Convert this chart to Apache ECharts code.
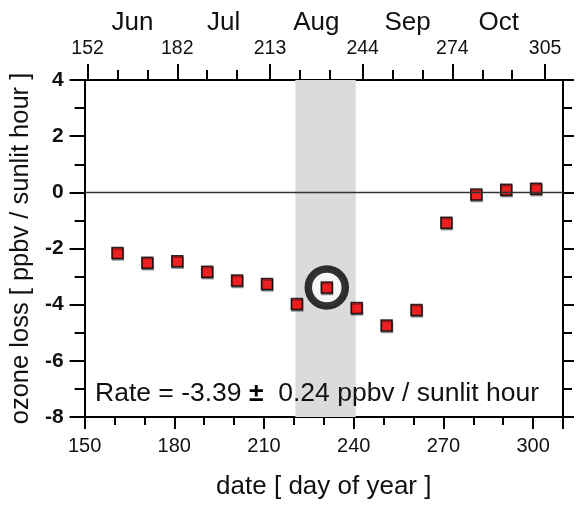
<!DOCTYPE html>
<html>
<head>
<meta charset="utf-8">
<script src="https://cdn.jsdelivr.net/npm/echarts@6/dist/echarts.min.js"></script>
<style>
  html, body { margin: 0; padding: 0; background: #fff; }
  #chart { width: 577px; height: 505px; }
</style>
</head>
<body>
<div id="chart"></div>
<script>
// Ozone loss rate, 10-day bins (day of year)
const days = [161, 171, 181, 191, 201, 211, 221, 231, 241, 251, 261, 271, 281, 291, 301];
const lossRate = [-2.16, -2.51, -2.45, -2.83, -3.14, -3.26, -3.98, -3.39, -4.12, -4.74, -4.19, -1.08, -0.08, 0.09, 0.13];

// Highlighted bin and the fitted rate
const highlightDay = 231;
const rateValue = -3.39;
const rateError = 0.24;

// Shaded period (day of year)
const shadeStart = 220.5;
const shadeEnd = 240.7;

// Top axis: first day of each month and ticks in between
const monthStartTicks = [152, 182, 213, 244, 274, 305];
const monthMinorTicks = [162, 172, 192, 202, 223, 233, 254, 264, 284, 294];
const monthNames = ['Jun', 'Jul', 'Aug', 'Sep', 'Oct'];
const monthCenters = [167, 197.5, 228.5, 259, 289.5];

const font = 'Liberation Sans, Arial, Helvetica, sans-serif';
const ink = '#111';
const lineStyle = { color: '#000', width: 2 };

const chart = echarts.init(document.getElementById('chart'), null, { renderer: 'canvas' });

const xMin = 150, xMax = 310;
const topShift = 1; // top axis values sit one day ahead of the bottom scale

const topAxisBase = {
  type: 'value', position: 'top', gridIndex: 0,
  min: xMin + topShift, max: xMax + topShift,
  splitLine: { show: false },
  axisLine: { show: false, onZero: false }
};

const option = {
  backgroundColor: '#fff',
  animation: false,
  grid: { left: 84, right: 14, top: 80, bottom: 84, containLabel: false },
  xAxis: [
    {
      type: 'value', position: 'bottom',
      min: xMin, max: xMax, interval: 30,
      name: 'date [ day of year ]', nameLocation: 'middle', nameGap: 57,
      nameTextStyle: { fontFamily: font, fontSize: 26, color: ink },
      axisLine: { show: true, onZero: false, lineStyle },
      axisTick: { show: true, length: 12, lineStyle },
      minorTick: { show: true, splitNumber: 3, length: 8, lineStyle },
      axisLabel: { fontFamily: font, fontSize: 20, color: ink, margin: 19,
        showMinLabel: true, showMaxLabel: false },
      splitLine: { show: false }
    },
    Object.assign({}, topAxisBase, {
      axisLine: { show: true, onZero: false, lineStyle },
      axisTick: { show: true, length: 16, lineStyle, customValues: monthStartTicks },
      axisLabel: { fontFamily: font, fontSize: 19.5, color: ink, margin: 21,
        customValues: monthStartTicks, formatter: v => String(Math.round(v)) }
    }),
    Object.assign({}, topAxisBase, {
      axisTick: { show: true, length: 10, lineStyle, customValues: monthMinorTicks },
      axisLabel: { show: false }
    }),
    Object.assign({}, topAxisBase, {
      axisTick: { show: false },
      axisLabel: { fontFamily: font, fontSize: 26, color: ink, margin: 44,
        customValues: monthCenters,
        formatter: v => monthNames[monthCenters.indexOf(v)] || '' }
    })
  ],
  yAxis: [
    {
      type: 'value', position: 'left',
      min: -8, max: 4, interval: 2,
      name: 'ozone loss [ ppbv / sunlit hour ]', nameLocation: 'middle', nameGap: 49,
      nameTextStyle: { fontFamily: font, fontSize: 25.5, color: ink },
      axisLine: { show: true, onZero: false, lineStyle },
      axisTick: { show: true, length: 15, lineStyle },
      minorTick: { show: true, splitNumber: 2, length: 10, lineStyle },
      axisLabel: { fontFamily: font, fontSize: 21, fontWeight: 'bold', color: ink, margin: 21 },
      splitLine: { show: false }
    },
    {
      type: 'value', position: 'right',
      min: -8, max: 4, interval: 2,
      axisLine: { show: true, onZero: false, lineStyle },
      axisTick: { show: true, length: 11, lineStyle },
      minorTick: { show: true, splitNumber: 2, length: 9, lineStyle },
      axisLabel: { show: false },
      splitLine: { show: false }
    }
  ],
  series: [
    {
      // shaded period and zero reference line
      type: 'line', data: [], xAxisIndex: 0, yAxisIndex: 0,
      markArea: {
        silent: true,
        itemStyle: { color: '#dbdadd' },
        data: [[{ xAxis: shadeStart }, { xAxis: shadeEnd }]]
      },
      markLine: {
        silent: true, symbol: 'none',
        label: { show: false },
        lineStyle: { color: '#333', width: 1.3, type: 'solid' },
        data: [{ yAxis: 0 }]
      }
    },
    {
      // ring round the highlighted bin
      type: 'scatter', xAxisIndex: 0, yAxisIndex: 0, z: 3,
      symbol: 'circle', symbolSize: 37,
      itemStyle: { color: '#fff', borderColor: '#000', borderWidth: 7.5 },
      data: [[highlightDay, lossRate[days.indexOf(highlightDay)]]]
    },
    {
      type: 'scatter', xAxisIndex: 0, yAxisIndex: 0, z: 4,
      symbol: 'rect', symbolSize: 11,
      itemStyle: {
        color: '#ff0000', borderColor: '#000', borderWidth: 1.5,
        shadowColor: 'rgba(0,0,0,0.45)', shadowOffsetX: 0.5, shadowOffsetY: 1.5, shadowBlur: 0
      },
      data: days.map((d, i) => [d, lossRate[i]])
    }
  ],
  graphic: [
    {
      type: 'text', left: 95, top: 380, z: 10,
      style: {
        text: '{a|Rate = ' + rateValue.toFixed(2) + ' }{b|\u00b1}{a|  ' + rateError.toFixed(2) + ' ppbv / sunlit hour}',
        rich: {
          a: { fontFamily: font, fontSize: 26.5, fill: ink },
          b: { fontFamily: font, fontSize: 26.5, fontWeight: 'bold', fill: '#000' }
        }
      }
    }
  ]
};

chart.setOption(option);
</script>
</body>
</html>
